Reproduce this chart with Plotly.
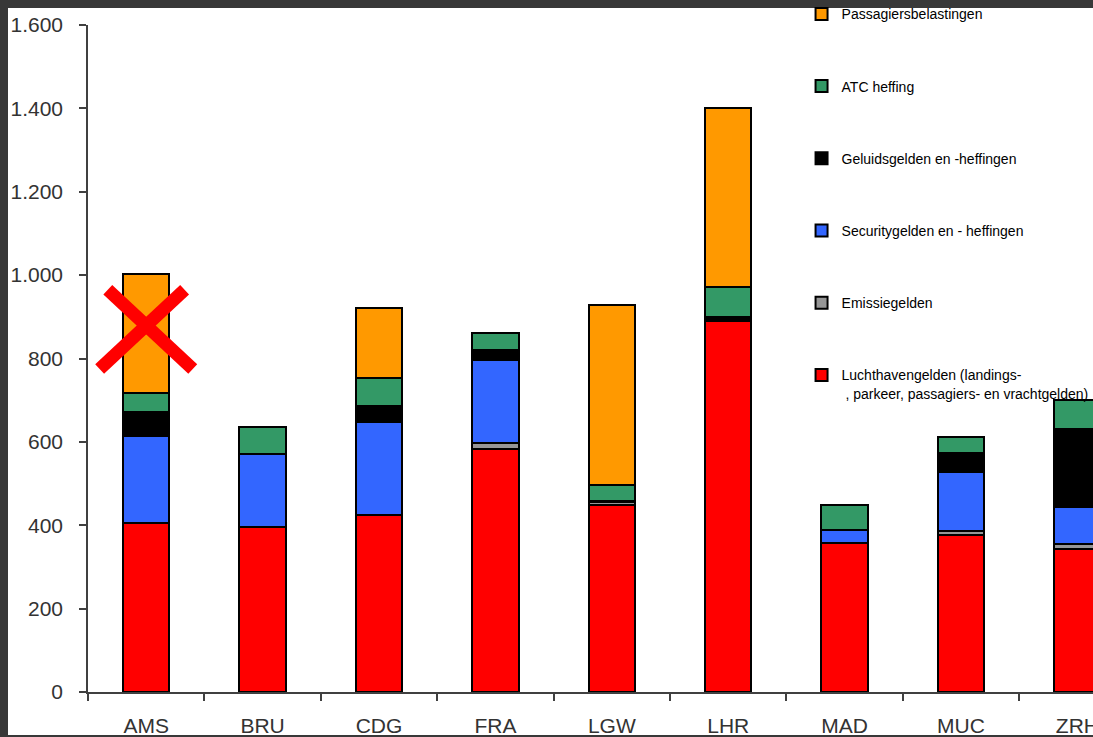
import plotly.graph_objects as go

airports = ["AMS", "BRU", "CDG", "FRA", "LGW", "LHR", "MAD", "MUC", "ZRH"]

luchthavengelden = [405, 396, 425, 583, 449, 890, 357, 377, 343]
emissiegelden    = [0,   0,   0,   14,  6,   0,   0,   9,   12]
securitygelden   = [209, 175, 223, 199, 0,   0,   32,  142, 89]
geluidsgelden    = [58,  0,   38,  24,  2,   10,  0,   45,  187]
atc_heffing      = [45,  65,  67,  41,  40,  72,  60,  39,  69]
passagiers       = [286, 0,   168, 0,   432, 428, 0,   0,   0]

series_names = [
    "Luchthavengelden (landings-<br> , parkeer, passagiers- en vrachtgelden)",
    "Emissiegelden",
    "Securitygelden en - heffingen",
    "Geluidsgelden en -heffingen",
    "ATC heffing",
    "Passagiersbelastingen",
]
series_values = [luchthavengelden, emissiegelden, securitygelden,
                 geluidsgelden, atc_heffing, passagiers]
series_colors = ["#FF0000", "#969696", "#3366FF", "#000000", "#339966", "#FF9900"]

y_tickvals = [0, 200, 400, 600, 800, 1000, 1200, 1400, 1600]
y_ticktext = ["0", "200", "400", "600", "800", "1.000", "1.200", "1.400", "1.600"]

FONT = "Liberation Sans, Arial, sans-serif"

fig = go.Figure()
n = len(series_names)
for i, (name, vals, col) in enumerate(zip(series_names, series_values, series_colors)):
    fig.add_trace(go.Bar(
        x=airports, y=vals, name=name, width=0.4,
        marker=dict(color=col, line=dict(color="#000000", width=2)),
        legendgroup="g%d" % i, legendrank=n - i,
    ))

# white page area inside the dark screenshot frame
fig.add_shape(type="rect", xref="paper", yref="paper",
              x0=-0.0796, x1=1.02, y0=-0.0645, y1=1.0255,
              fillcolor="white", line=dict(width=0), layer="below")

# red cross over AMS
cross_color = "#FF0000"
fig.add_shape(type="line", xref="x", yref="y", x0=-0.33, y0=965, x1=0.4, y1=775,
              line=dict(color=cross_color, width=13), layer="above")
fig.add_shape(type="line", xref="x", yref="y", x0=-0.4, y0=775, x1=0.33, y1=965,
              line=dict(color=cross_color, width=13), layer="above")

fig.update_layout(
    width=1093, height=737,
    barmode="stack",
    paper_bgcolor="#383838",
    plot_bgcolor="rgba(0,0,0,0)",
    margin=dict(l=88, r=0, t=25, b=45, autoexpand=False),
    font=dict(family=FONT, color="#222222"),
    showlegend=True,
    legend=dict(
        x=0.710, y=1.040, xanchor="left", yanchor="top",
        traceorder="grouped", tracegroupgap=51,
        font=dict(family=FONT, size=14, color="#000000"),
        bgcolor="rgba(0,0,0,0)", valign="top", maxheight=1,
    ),
    xaxis=dict(
        type="category", range=[-0.5, 8.134], automargin=False,
        showline=True, linecolor="#404040", linewidth=1.5,
        ticks="outside", ticklen=7, tickcolor="#404040", tickwidth=1.5,
        tickson="boundaries", showgrid=False,
        tickfont=dict(family=FONT, size=21, color="#333333"),
        ticklabelstandoff=14,
    ),
    yaxis=dict(
        range=[0, 1600], tickvals=y_tickvals, ticktext=y_ticktext,
        automargin=False,
        showline=True, linecolor="#404040", linewidth=1.5,
        ticks="outside", ticklen=7, tickcolor="#404040", tickwidth=1.5,
        showgrid=False, zeroline=False,
        tickfont=dict(family=FONT, size=21, color="#333333"),
        ticklabelstandoff=12,
    ),
)

fig.write_html("out.html")
